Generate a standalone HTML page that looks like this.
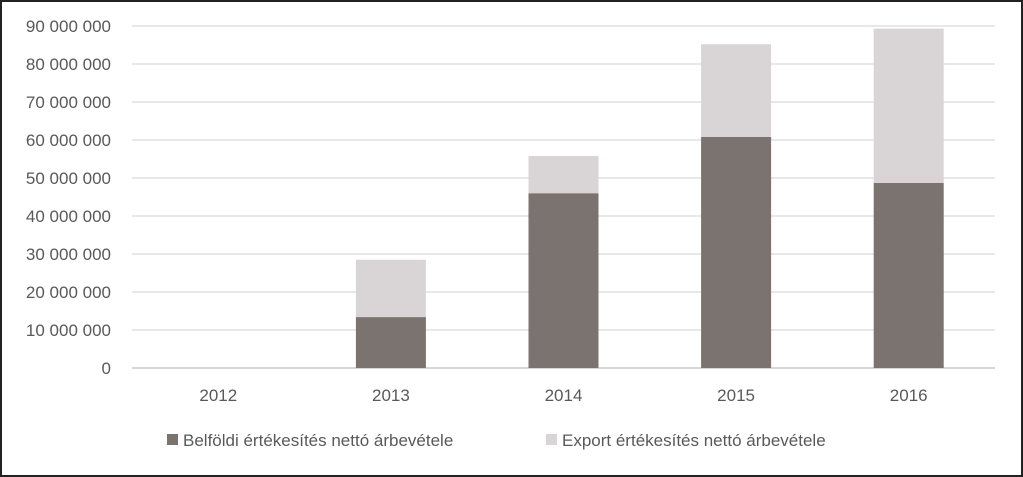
<!DOCTYPE html>
<html><head><meta charset="utf-8"><style>
body{margin:0;background:#fff}
svg{display:block;font-family:"Liberation Sans",sans-serif}
</style></head><body>
<svg id="c" width="1023" height="477">
<rect x="1" y="1" width="1021" height="475" fill="#fff" stroke="#222" stroke-width="2"/>
<g id="grid"></g><g id="bars"></g><g id="labels"></g>
<g>
<rect x="167" y="434" width="11" height="11" fill="#7b7370"/>
<text x="183" y="446" font-size="17" fill="#595959">Belföldi értékesítés nettó árbevétele</text>
<rect x="546" y="434" width="11" height="11" fill="#d9d5d6"/>
<text x="562" y="446" font-size="17" fill="#595959">Export értékesítés nettó árbevétele</text>
</g>
</svg>
<script>
const categories=["2012","2013","2014","2015","2016"];
const domestic=[0,13400000,46000000,60800000,48700000];
const exportVals=[0,15100000,9800000,24400000,40600000];
const yTicks=[0,10000000,20000000,30000000,40000000,50000000,60000000,70000000,80000000,90000000];
const yTickLabels=["0","10 000 000","20 000 000","30 000 000","40 000 000","50 000 000","60 000 000","70 000 000","80 000 000","90 000 000"];
const NS="http://www.w3.org/2000/svg";
const left=132,right=995,y0=368,yTop=26,yMax=90000000;
const y=v=>y0-(v/yMax)*(y0-yTop);
const band=(right-left)/categories.length;
const x=i=>left+band*(i+0.5);
const bw=70;
function mk(tag,attrs,parent){const e=document.createElementNS(NS,tag);for(const k in attrs)e.setAttribute(k,attrs[k]);parent.appendChild(e);return e;}
const g=document.getElementById('grid'),b=document.getElementById('bars'),l=document.getElementById('labels');
yTicks.forEach((t,i)=>{
 const ln=mk('line',{x1:left,x2:right,y1:y(t),y2:y(t),stroke:i===0?'#bfbfbf':'#d9d9d9','stroke-width':1.3},g);
 
 
 const tx=mk('text',{x:111,y:y(t)+6,'text-anchor':'end','font-size':17,fill:'#595959'},l);
 tx.textContent=yTickLabels[i];
 
 
});
categories.forEach((c,i)=>{
 const d=mk('rect',{x:x(i)-bw/2,y:y(domestic[i]),width:bw,height:y0-y(domestic[i]),fill:'#7b7370'},b);
 
 
 const top=domestic[i]+exportVals[i];
 const e=mk('rect',{x:x(i)-bw/2,y:y(top),width:bw,height:y(domestic[i])-y(top),fill:'#d9d5d6'},b);
 
 
 const tx=mk('text',{x:x(i),y:401,'text-anchor':'middle','font-size':17,fill:'#595959'},l);
 tx.textContent=c;
 
 
});
</script>
</body></html>
